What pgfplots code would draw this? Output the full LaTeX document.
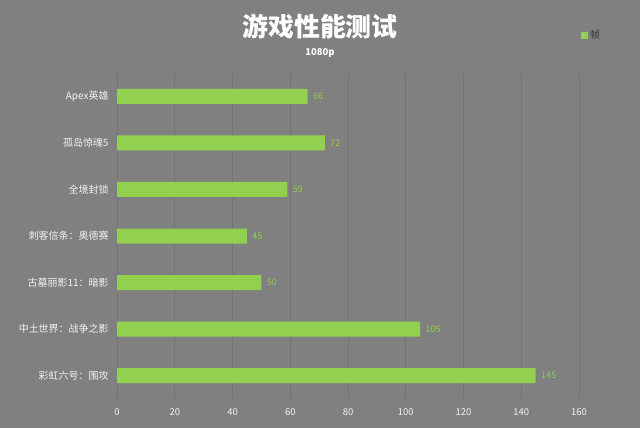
\documentclass[border=0pt]{standalone}
\usepackage{fontspec}
\setmainfont{Noto Sans CJK SC}
\usepackage{pgfplots}
\pgfplotsset{compat=1.18}
\definecolor{bg}{HTML}{808080}
\definecolor{gridc}{HTML}{747474}
\definecolor{barg}{HTML}{92D050}
\definecolor{lbl}{HTML}{F2F2F2}
\begin{document}
\begin{tikzpicture}[x=1bp,y=1bp]
\fill[bg] (0,0) rectangle (640,428);
\node[font=\bfseries\fontsize{26}{28}\selectfont, text=white] at (320,401) {游戏性能测试};
\node[font=\bfseries\fontsize{9.5}{11}\selectfont, text=white] at (320,375) {1080p};
\begin{axis}[
  at={(117bp,29bp)}, anchor=south west,
  width=462bp, height=326bp, scale only axis,
  xmin=0, xmax=160, xtick={0,20,...,160},
  ymin=-0.5, ymax=6.5, y dir=reverse,
  ytick={0,...,6},
  yticklabels={Apex英雄,孤岛惊魂5,全境封锁,刺客信条：奥德赛,古墓丽影11：暗影,中土世界：战争之影,彩虹六号：围攻},
  axis line style={draw=none},
  major tick length=0pt,
  xmajorgrids, grid style={gridc, line width=0.7pt},
  ticklabel style={text=lbl},
  yticklabel style={font=\fontsize{10}{12}\selectfont, xshift=-5bp},
  xticklabel style={font=\fontsize{9.5}{11}\selectfont, yshift=-6bp},
  /pgf/number format/assume math mode=true,
  xbar, bar width=15bp,
  nodes near coords,
  nodes near coords style={text=barg, font=\fontsize{9}{10}\selectfont, xshift=2bp},
  legend style={at={(1.027,1.115)}, anchor=center, draw=none, fill=none,
    font=\fontsize{10}{11}\selectfont, text=black!80},
  legend image code/.code={\fill[barg] (0bp,-3.5bp) rectangle (7bp,3.5bp);},
  clip=false,
]
\addplot[fill=barg, draw=none] coordinates {
  (66,0) (72,1) (59,2) (45,3) (50,4) (105,5) (145,6)
};
\addlegendentry{帧}
\end{axis}
\end{tikzpicture}
\end{document}
